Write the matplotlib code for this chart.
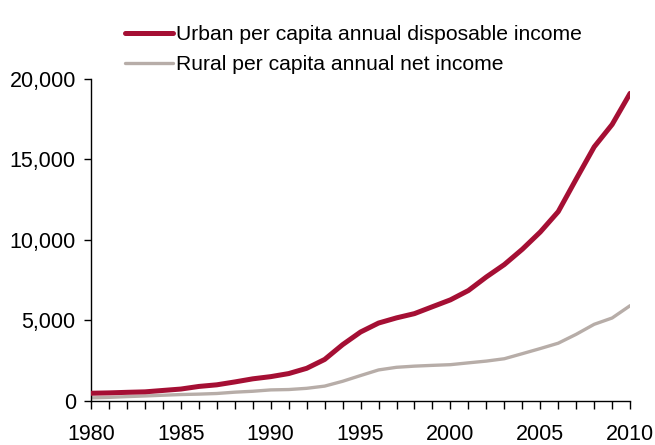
import matplotlib
matplotlib.use("Agg")
import matplotlib.pyplot as plt
from matplotlib.ticker import MultipleLocator, FuncFormatter

plt.rcParams['font.family'] = ['Liberation Sans', 'DejaVu Sans']

# China per capita income, yuan
years = list(range(1980, 2011))
urban_income = [477.6, 500.4, 535.3, 564.6, 652.1, 739.1, 900.9, 1002.1, 1180.2, 1373.9,
                1510.2, 1700.6, 2026.6, 2577.4, 3496.2, 4283.0, 4838.9, 5160.3, 5425.1, 5854.0,
                6280.0, 6859.6, 7702.8, 8472.2, 9421.6, 10493.0, 11759.5, 13785.8, 15780.8,
                17174.7, 19109.4]
rural_income = [191.3, 223.4, 270.1, 309.8, 355.3, 397.6, 423.8, 462.6, 544.9, 601.5,
                686.3, 708.6, 784.0, 921.6, 1221.0, 1577.7, 1926.1, 2090.1, 2162.0, 2210.3,
                2253.4, 2366.4, 2475.6, 2622.2, 2936.4, 3254.9, 3587.0, 4140.4, 4760.6,
                5153.2, 5919.0]
series_labels = ['Urban per capita annual disposable income',
                 'Rural per capita annual net income']

fig = plt.figure(figsize=(6.55, 4.45), dpi=100)
ax = fig.add_axes([0.139, 0.099, 0.823, 0.7235])

ax.plot(years, urban_income, color='#A50F34', linewidth=3.6, solid_capstyle='round',
        label=series_labels[0], zorder=3)
ax.plot(years, rural_income, color='#B7ADA8', linewidth=2.4, solid_capstyle='round',
        label=series_labels[1], zorder=2)

ax.set_xlim(1980, 2010)
ax.set_ylim(0, 20000)
ax.xaxis.set_major_locator(MultipleLocator(5))
ax.xaxis.set_minor_locator(MultipleLocator(1))
ax.yaxis.set_major_locator(MultipleLocator(5000))
ax.yaxis.set_major_formatter(FuncFormatter(lambda v, p: f'{int(v):,}'))

for side in ['top', 'right']:
    ax.spines[side].set_visible(False)
for side in ['left', 'bottom']:
    ax.spines[side].set_linewidth(1.0)
    ax.spines[side].set_color('black')

ax.tick_params(axis='x', which='both', direction='out', length=6, width=1.0)
ax.tick_params(axis='x', which='major', pad=10.5, labelsize=15.5)
ax.tick_params(axis='y', direction='out', length=5, width=1.0, pad=6, labelsize=15.5)

fig.legend(loc='upper left', bbox_to_anchor=(0.178, 0.962), frameon=False,
           fontsize=15.2, handlelength=2.25, handletextpad=0.15, labelspacing=0.5,
           borderaxespad=0)

fig.savefig('out.png', dpi=100)
